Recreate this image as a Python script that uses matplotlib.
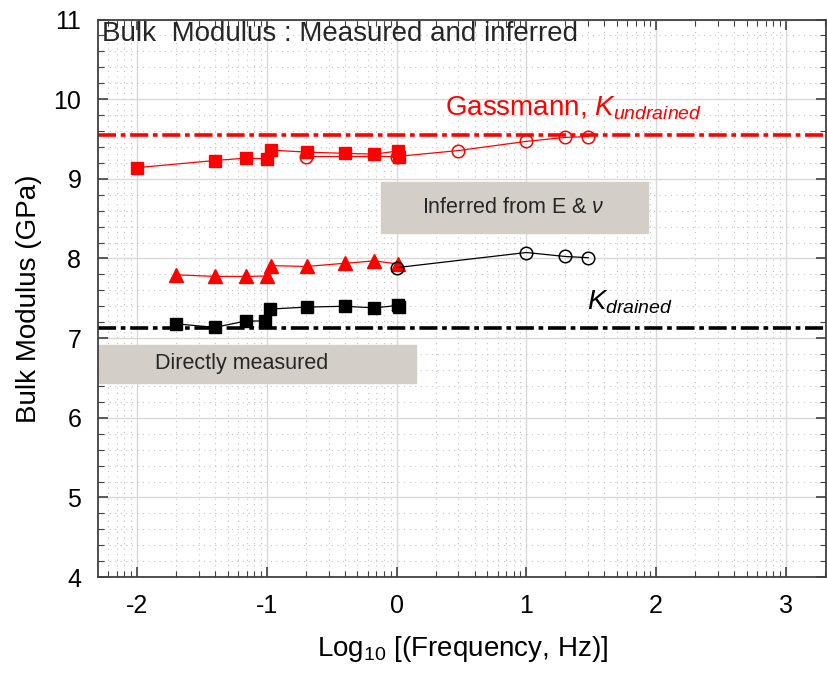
import numpy as np
import matplotlib
matplotlib.use("Agg")
import matplotlib.pyplot as plt
from matplotlib.patches import Rectangle
from matplotlib.ticker import FixedLocator, MultipleLocator

plt.rcParams['font.family'] = ['Liberation Sans', 'DejaVu Sans']
plt.rcParams['mathtext.fontset'] = 'custom'
plt.rcParams['mathtext.rm'] = 'Liberation Sans'
plt.rcParams['mathtext.it'] = 'Liberation Sans:italic'
plt.rcParams['axes.unicode_minus'] = False

# log10(frequency) positions and bulk modulus (GPa)
x_sq = [-2.0, -1.40, -1.16, -1.00, -0.965, -0.69, -0.40, -0.17, 0.01, 0.02]
k_red_sq = [9.14, 9.23, 9.26, 9.25, 9.36, 9.335, 9.32, 9.31, 9.35, 9.28]

x_red_circ = [-0.70, 0.0, 0.477, 1.0, 1.30, 1.477]
k_red_circ = [9.28, 9.28, 9.355, 9.47, 9.52, 9.53]

x_tri = [-1.70, -1.40, -1.16, -1.00, -0.965, -0.69, -0.40, -0.17, 0.015]
k_tri = [7.795, 7.775, 7.775, 7.78, 7.91, 7.90, 7.94, 7.97, 7.93]

x_blk_sq = [-1.70, -1.40, -1.16, -1.01, -0.975, -0.69, -0.40, -0.17, 0.01, 0.02]
k_blk_sq = [7.18, 7.135, 7.215, 7.215, 7.365, 7.39, 7.40, 7.38, 7.41, 7.395]

x_blk_circ = [0.0, 1.0, 1.30, 1.477]
k_blk_circ = [7.885, 8.075, 8.025, 8.01]

k_undrained = 9.55
k_drained = 7.13

fig = plt.figure(figsize=(8.27, 6.73), dpi=100)
ax = fig.add_axes([0.1185, 0.1425, 0.8805, 0.8285])

ax.set_xlim(-2.3, 3.31)
ax.set_ylim(4, 11)

# grids: solid majors, dotted minors at log positions inside each decade
ax.xaxis.set_major_locator(FixedLocator([-2, -1, 0, 1, 2, 3]))
minors = []
for n in range(-3, 4):
    for k in range(2, 10):
        v = n + np.log10(k)
        if -2.3 < v < 3.31:
            minors.append(v)
ax.xaxis.set_minor_locator(FixedLocator(minors))
ax.yaxis.set_major_locator(MultipleLocator(1))
ax.yaxis.set_minor_locator(MultipleLocator(0.2))
ax.grid(which='major', color='#d9d9d9', lw=1.0, ls='-')
ax.grid(which='minor', color='#c4c4c4', lw=0.8, ls=(0, (1, 4)))
ax.set_axisbelow(True)

ax.tick_params(which='both', direction='in', top=True, right=True,
               labelsize=18, color='#404040')
ax.tick_params(which='major', length=7, width=1.2, pad=12)
ax.tick_params(which='minor', length=4, width=0.8)
for s in ax.spines.values():
    s.set_color('#404040')
    s.set_linewidth(1.3)

# text boxes
ax.add_patch(Rectangle((-0.118, 8.318), 2.058, 0.648, color='#d3cfc8', zorder=1.5))
ax.text(0.90, 8.64, r'Inferred from E & $\nu$', fontsize=15.5, color='#262626',
        ha='center', va='center', zorder=3)
ax.add_patch(Rectangle((-2.29, 6.443), 2.44, 0.473, color='#d3cfc8', zorder=1.5))
ax.text(-1.19, 6.68, 'Directly measured', fontsize=15.5, color='#262626',
        ha='center', va='center', zorder=3)

# reference lines
dashdot = (0, (5, 1.3, 1.3, 1.3))
ax.axhline(k_undrained, color='red', lw=2.6, ls=dashdot, zorder=2)
ax.axhline(k_drained, color='black', lw=2.6, ls=dashdot, zorder=2)

ax.text(0.37, 9.79, r'Gassmann, $K_{undrained}$', color='red', fontsize=20)
ax.text(1.47, 7.36, r'$K_{drained}$', color='black', fontsize=20)

# series
ax.plot(x_sq, k_red_sq, color='red', lw=0.9, marker='s', ms=8, zorder=4)
ax.plot(x_red_circ, k_red_circ, color='red', lw=0.9, marker='o', ms=9,
        mfc='none', mew=1.1, zorder=4)
ax.plot(x_tri, k_tri, color='red', lw=0.9, marker='^', ms=10, zorder=4)
ax.plot(x_blk_sq, k_blk_sq, color='black', lw=0.9, marker='s', ms=8, zorder=4)
ax.plot(x_blk_circ, k_blk_circ, color='black', lw=0.9, marker='o', ms=9,
        mfc='none', mew=1.1, zorder=4)

ax.text(0.005, 0.997, 'Bulk  Modulus : Measured and inferred', transform=ax.transAxes,
        ha='left', va='top', fontsize=20, color='#262626', zorder=5)

ax.set_xlabel(r'Log$_{10}$ [(Frequency, Hz)]', fontsize=20, labelpad=12)
ax.set_ylabel('Bulk Modulus (GPa)', fontsize=20, labelpad=8)

fig.savefig('out.png', dpi=100)
